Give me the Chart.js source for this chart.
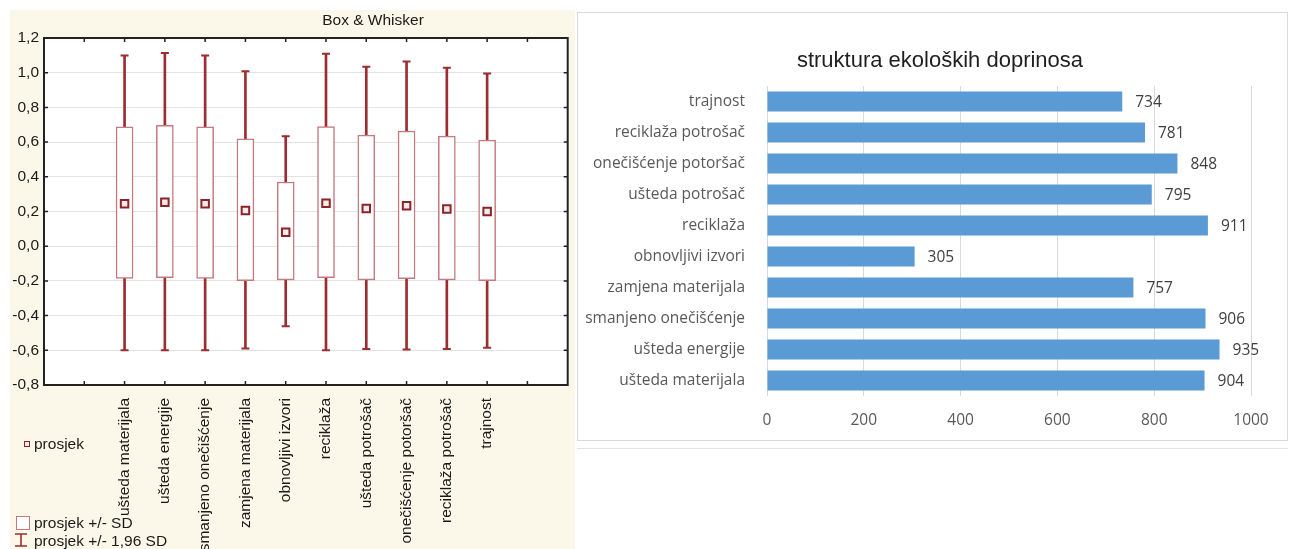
<!DOCTYPE html>
<html>
<head>
<meta charset="utf-8">
<title>Box &amp; Whisker / struktura ekoloških doprinosa</title>
<script src="https://cdn.jsdelivr.net/npm/chart.js@4.4.1/dist/chart.umd.min.js"></script>
<style>
  html, body { margin: 0; padding: 0; background: #fff; }
  body { position: relative; width: 1291px; height: 549px; overflow: hidden; font-family: 'Liberation Sans', Arial, sans-serif; }
  #boxWrap { position: absolute; left: 0; top: 0; width: 575px; height: 549px; }
  #barWrap { position: absolute; left: 577px; top: 12px; width: 709px; height: 427px; border: 1px solid #d9d9d9; }
  #sheetLine { position: absolute; left: 577px; top: 448px; width: 711px; border-top: 1px solid #e3e3e3; }
  .lg { position: absolute; font-size: 15.5px; line-height: 18px; color: #1a1a1a; white-space: nowrap; }
  .ico { position: absolute; box-sizing: border-box; }
</style>
</head>
<body>
<div id="boxWrap"><canvas id="boxChart" width="575" height="549"></canvas></div>
<div id="barWrap"><canvas id="barChart" width="709" height="427"></canvas></div>
<div id="sheetLine"></div>

<!-- legend of the box plot -->
<div class="ico" style="left:24px;top:441px;width:6px;height:6px;border:1.5px solid #8b2428;background:#f6eaea"></div>
<div class="lg" style="left:34px;top:435px">prosjek</div>
<div class="ico" style="left:16px;top:516px;width:14px;height:14px;border:1px solid #c47a7e;background:#fff"></div>
<div class="lg" style="left:34px;top:514px">prosjek +/- SD</div>
<svg class="ico" style="left:14px;top:533px" width="14" height="14">
  <path d="M1 1H13M7 1V13M1 13H13" stroke="#9b2d30" stroke-width="1.6" fill="none"/>
</svg>
<div class="lg" style="left:34px;top:532px">prosjek +/- 1,96 SD</div>

<script>
// categories shared by both charts
const categories = ['ušteda materijala', 'ušteda energije', 'smanjeno onečišćenje', 'zamjena materijala',
    'obnovljivi izvori', 'reciklaža', 'ušteda potrošač', 'onečišćenje potoršač', 'reciklaža potrošač', 'trajnost'];

// Box & Whisker: mean, mean +/- SD, mean +/- 1.96 SD
const means  = [0.244, 0.254, 0.244, 0.206, 0.081, 0.248, 0.217, 0.233, 0.215, 0.200];
const sdLow  = [-0.185, -0.181, -0.185, -0.198, -0.194, -0.181, -0.194, -0.187, -0.194, -0.198];
const sdHigh = [0.688, 0.697, 0.688, 0.619, 0.370, 0.690, 0.640, 0.663, 0.634, 0.611];
const ciLow  = [-0.600, -0.600, -0.600, -0.589, -0.462, -0.600, -0.592, -0.596, -0.592, -0.585];
const ciHigh = [1.099, 1.114, 1.099, 1.008, 0.634, 1.109, 1.034, 1.065, 1.029, 0.996];
const boxYRange = [-0.8, 1.2];

// struktura ekoloških doprinosa
const counts = [904, 935, 906, 757, 305, 911, 795, 848, 781, 734];
const barXRange = [0, 1000];

const leftFont = { family: "'Liberation Sans', Arial, sans-serif", size: 15.5 };
const rightFont = { family: "'Open Sans', sans-serif", size: 15.5 };

// the box plot leaves two empty slots on each side of the categories
const pad = arr => [null, null, ...arr, null, null];
const boxLabels = ['', '', ...categories, '', ''];
const fmtComma = v => (Math.abs(v) < 1e-9 ? 0 : v).toFixed(1).replace('.', ',');

const boxBackground = {
    id: 'boxBackground',
    beforeDraw(chart) {
        const { ctx, chartArea: a } = chart;
        ctx.save();
        ctx.fillStyle = '#fcf8e9';
        ctx.fillRect(10, 10, chart.width - 10, chart.height - 10);
        ctx.fillStyle = '#fff';
        ctx.fillRect(a.left, a.top, a.right - a.left, a.bottom - a.top);
        ctx.restore();
    }
};

// frame, inward ticks on all four sides and the title
const boxFrame = {
    id: 'boxFrame',
    afterDraw(chart) {
        const { ctx, chartArea: a, scales: { x, y } } = chart;
        ctx.save();
        ctx.strokeStyle = '#222';
        ctx.lineWidth = 1.5;
        ctx.beginPath();
        x.ticks.forEach((t, i) => {
            if (i === 0 || i === x.ticks.length - 1) return;
            const px = x.getPixelForTick(i);
            ctx.moveTo(px, a.bottom); ctx.lineTo(px, a.bottom - 4);
            ctx.moveTo(px, a.top); ctx.lineTo(px, a.top + 4);
        });
        y.ticks.forEach((t, i) => {
            const py = y.getPixelForTick(i);
            ctx.moveTo(a.left, py); ctx.lineTo(a.left + 4, py);
            ctx.moveTo(a.right, py); ctx.lineTo(a.right - 4, py);
        });
        ctx.stroke();
        ctx.lineWidth = 2;
        ctx.strokeRect(a.left, a.top, a.right - a.left, a.bottom - a.top);

        ctx.fillStyle = '#1a1a1a';
        ctx.font = `${leftFont.size}px ${leftFont.family}`;
        ctx.textAlign = 'center';
        ctx.textBaseline = 'middle';
        ctx.fillText('Box & Whisker', 373, 21);
        ctx.restore();
    }
};

new Chart(document.getElementById('boxChart'), {
    type: 'bar',
    data: {
        labels: boxLabels,
        datasets: [
            {
                label: 'prosjek +/- 1,96 SD',
                data: pad(categories.map((c, i) => [ciLow[i], ciHigh[i]])),
                backgroundColor: '#9b2d30',
                borderWidth: 0,
                barThickness: 2,
                grouped: false,
                order: 4
            },
            {
                label: 'prosjek +/- SD',
                data: pad(categories.map((c, i) => [sdLow[i], sdHigh[i]])),
                backgroundColor: '#fff',
                borderColor: '#c47a7e',
                borderWidth: 1.5,
                borderSkipped: false,
                barThickness: 17,
                grouped: false,
                order: 3
            },
            {
                type: 'line',
                label: 'cap high',
                data: pad(ciHigh),
                showLine: false,
                pointStyle: 'line',
                pointRadius: 4,
                pointBorderWidth: 2,
                borderColor: '#9b2d30',
                order: 2
            },
            {
                type: 'line',
                label: 'cap low',
                data: pad(ciLow),
                showLine: false,
                pointStyle: 'line',
                pointRadius: 4,
                pointBorderWidth: 2,
                borderColor: '#9b2d30',
                order: 2
            },
            {
                type: 'line',
                label: 'prosjek',
                data: pad(means),
                showLine: false,
                pointStyle: 'rect',
                pointRadius: 5.3,
                pointBorderWidth: 2,
                borderColor: '#8b2428',
                backgroundColor: '#f6eaea',
                order: 1
            }
        ]
    },
    options: {
        responsive: false,
        animation: false,
        events: [],
        layout: { padding: { top: 38, right: 7, left: 0, bottom: 0 } },
        plugins: { legend: { display: false }, tooltip: { enabled: false } },
        scales: {
            x: {
                type: 'category',
                offset: false,
                grid: { display: false },
                border: { display: false },
                ticks: { autoSkip: false, minRotation: 90, maxRotation: 90, padding: 5, color: '#1a1a1a', font: leftFont },
                afterFit: s => { s.height = 164; s.paddingLeft = 0; s.paddingRight = 0; }
            },
            y: {
                min: boxYRange[0],
                max: boxYRange[1],
                grid: { color: '#e2e2e2', drawTicks: false },
                border: { display: false },
                ticks: { stepSize: 0.2, padding: 5, color: '#1a1a1a', font: leftFont, callback: v => fmtComma(v) },
                afterFit: s => { s.width = 44; }
            }
        }
    },
    plugins: [boxBackground, boxFrame]
});

// value labels at the end of each horizontal bar, plus the chart title
const valueLabels = {
    id: 'valueLabels',
    afterDatasetsDraw(chart) {
        const { ctx } = chart;
        const ds = chart.data.datasets[0];
        ctx.save();
        ctx.fillStyle = '#404040';
        ctx.font = `${rightFont.size}px ${rightFont.family}`;
        ctx.textAlign = 'left';
        ctx.textBaseline = 'middle';
        chart.getDatasetMeta(0).data.forEach((bar, i) => {
            ctx.fillText(String(ds.data[i]), bar.x + 13, bar.y + 1);
        });
        ctx.fillStyle = '#1f1f1f';
        ctx.font = "22px 'Liberation Sans', Arial, sans-serif";
        ctx.textAlign = 'center';
        ctx.fillText(ds.label, 362, 48);
        ctx.restore();
    }
};

new Chart(document.getElementById('barChart'), {
    type: 'bar',
    data: {
        labels: categories,
        datasets: [{
            label: 'struktura ekoloških doprinosa',
            data: counts,
            backgroundColor: '#5b9bd5',
            barPercentage: 0.65,
            categoryPercentage: 1
        }]
    },
    options: {
        indexAxis: 'y',
        responsive: false,
        animation: false,
        events: [],
        layout: { padding: { left: 0, right: 36, top: 73, bottom: 0 } },
        plugins: { legend: { display: false }, tooltip: { enabled: false } },
        scales: {
            x: {
                min: barXRange[0],
                max: barXRange[1],
                grid: { color: '#d9d9d9', drawTicks: false },
                border: { display: false },
                ticks: { stepSize: 200, padding: 15, color: '#595959', font: rightFont, callback: v => String(v) },
                afterFit: s => { s.height = 44; }
            },
            y: {
                reverse: true,
                grid: { display: false },
                border: { display: false },
                ticks: { padding: 14, color: '#595959', font: rightFont },
                afterFit: s => { s.width = 189; }
            }
        }
    },
    plugins: [valueLabels]
});
</script>
</body>
</html>
